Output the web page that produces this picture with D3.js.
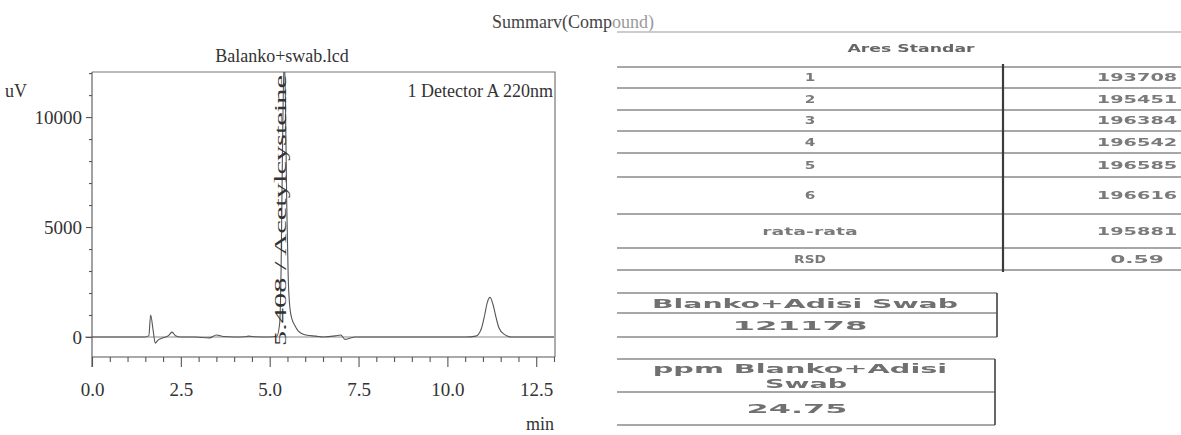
<!DOCTYPE html>
<html>
<head>
<meta charset="utf-8">
<script src="https://cdn.jsdelivr.net/npm/d3@7"></script>
<style>
  body { margin: 0; background: #fff; }
  svg { display: block; }
</style>
</head>
<body>
<svg id="chart" width="1181" height="435"></svg>
<script>
// ---- Chromatogram data (retention time in min, detector signal in uV) ----
const timeMin = [
  0.0, 1.0, 1.5, 1.6, 1.65, 1.72, 1.78, 1.85, 2.0, 2.15, 2.25, 2.35, 2.5,
  2.9, 3.3, 3.5, 3.7, 4.0, 4.3, 4.4, 4.6, 5.0, 5.2, 5.28, 5.32, 5.36, 5.408,
  5.44, 5.48, 5.52, 5.57, 5.63, 5.7, 5.8, 5.9, 6.05, 6.3, 6.5, 6.85, 7.0,
  7.12, 7.25, 7.4, 8.5, 10.5, 10.8, 10.95, 11.05, 11.12, 11.2, 11.28, 11.36,
  11.45, 11.6, 11.8, 12.5, 13.0
];
const signalUV = [
  0, 0, 0, 60, 1000, 300, -280, -150, -40, 60, 220, 60, 0,
  0, -40, 90, 20, 0, 10, 40, 10, 0, 30, 600, 3000, 8500, 12700,
  11000, 6000, 2800, 1300, 800, 550, 280, 160, 80, 40, 0, 50, 90,
  -110, -60, 0, 0, 0, 40, 350, 1000, 1550, 1800, 1500, 950,
  420, 120, 0, 0, 0
];
const peakTimes = [5.408];
const peakNames = ["5.408 / Acetylcysteine"];
const xMajorTicks = [0, 2.5, 5, 7.5, 10, 12.5];
const yMajorTicks = [0, 5000, 10000];
const chartTitle = "Balanko+swab.lcd";
const detectorLabel = "1 Detector A 220nm";

// ---- Summary table data ----
const standardRuns = ["1", "2", "3", "4", "5", "6", "rata-rata", "RSD"];
const standardAreas = ["193708", "195451", "196384", "196542", "196585", "196616", "195881", "0.59"];
const swabHeader = ["Blanko+Adisi Swab"];
const swabArea = ["121178"];
const ppmHeader = ["ppm Blanko+Adisi", "Swab"];
const ppmValue = ["24.75"];

const svg = d3.select("#chart");
const defs = svg.append("defs");
defs.append("filter").attr("id", "soft")
  .append("feGaussianBlur").attr("stdDeviation", 0.5);
defs.append("clipPath").attr("id", "plotClip")
  .append("rect").attr("x", 92).attr("y", 72).attr("width", 463).attr("height", 285);

const serif = "'Liberation Serif', 'Times New Roman', serif";
const ink = "#333";

// ---- Chromatogram ----
const x = d3.scaleLinear().domain([0, 13]).range([92, 554]);
const y = d3.scaleLinear().domain([-910, 12050]).range([357, 72]);

const g = svg.append("g");

// frame (top and right)
g.append("path")
  .attr("d", `M${x(0)},${y(12050)}H555V${y(-910)}`)
  .attr("fill", "none").attr("stroke", "#777").attr("stroke-width", 1.2);

// zero baseline
g.append("line")
  .attr("x1", 85).attr("x2", x(13)).attr("y1", y(0)).attr("y2", y(0))
  .attr("stroke", "#c4c4c4").attr("stroke-width", 2.2);

// x axis: major + minor ticks
const xMinor = d3.range(0, 13.01, 0.5).filter(v => !xMajorTicks.includes(v));
const xAxisMinor = d3.axisBottom(x).tickValues(xMinor).tickSize(5).tickFormat("");
const xAxisMajor = d3.axisBottom(x).tickValues(xMajorTicks).tickSize(10).tickPadding(16)
  .tickFormat(d3.format(".1f"));
g.append("g").attr("transform", `translate(0,${y(-910)})`).call(xAxisMinor)
  .call(a => a.select(".domain").remove());
const gx = g.append("g").attr("transform", `translate(0,${y(-910)})`).call(xAxisMajor);
gx.select(".domain").attr("d", `M${x(0)},0H555`);

// y axis: major + minor ticks
const yMinor = d3.range(1000, 12001, 1000).filter(v => !yMajorTicks.includes(v));
g.append("g").attr("transform", `translate(${x(0)},0)`)
  .call(d3.axisLeft(y).tickValues(yMinor).tickSize(3).tickFormat(""))
  .call(a => a.select(".domain").remove());
const gy = g.append("g").attr("transform", `translate(${x(0)},0)`)
  .call(d3.axisLeft(y).tickValues(yMajorTicks).tickSize(6).tickPadding(4).tickFormat(d3.format("d")));
gy.select(".domain").attr("d", `M0,${y(12050)}V${y(-910) + 10}`);

svg.selectAll(".tick line, .domain").attr("stroke", "#555").attr("stroke-width", 1.1);
svg.selectAll(".tick text").attr("font-family", serif).attr("font-size", 19).attr("fill", ink);

// signal trace
const trace = d3.line().x((d, i) => x(timeMin[i])).y(d => y(d)).curve(d3.curveMonotoneX);
g.append("path").datum(signalUV)
  .attr("clip-path", "url(#plotClip)")
  .attr("d", trace)
  .attr("fill", "none").attr("stroke", "#555").attr("stroke-width", 1.1);

// peak annotation (rotated, reading upward)
peakTimes.forEach((t, i) => {
  const px = x(t) + 2, py = 346;
  g.append("text")
    .attr("transform", `translate(${px},${py}) rotate(-90)`)
    .attr("font-family", serif).attr("font-size", 16).attr("fill", ink)
    .attr("textLength", 271).attr("lengthAdjust", "spacingAndGlyphs")
    .text(peakNames[i]);
});

// titles and units
g.append("text").attr("x", 282).attr("y", 62).attr("text-anchor", "middle")
  .attr("font-family", serif).attr("font-size", 18).attr("fill", ink).text(chartTitle);
g.append("text").attr("x", 553).attr("y", 97).attr("text-anchor", "end")
  .attr("font-family", serif).attr("font-size", 18).attr("fill", ink).text(detectorLabel);
g.append("text").attr("x", 5).attr("y", 97)
  .attr("font-family", serif).attr("font-size", 18).attr("fill", ink).text("uV");
g.append("text").attr("x", 554).attr("y", 430).attr("text-anchor", "end")
  .attr("font-family", serif).attr("font-size", 18).attr("fill", ink).text("min");

// ---- Summary heading ----
const head = svg.append("text").attr("x", 492).attr("y", 28)
  .attr("font-family", serif).attr("font-size", 18).attr("fill", "#444");
head.append("tspan").text("Summarv(Comp");
head.append("tspan").attr("fill", "#999").text("ound)");

// ---- Summary table ----
const sans = "'DejaVu Sans', Verdana, sans-serif";
const t = svg.append("g").attr("filter", "url(#soft)");
const tableLeft = 617, tableRight = 1181, colSplit = 1003;
const rowEdges = [32, 67, 88, 110, 131, 153, 177, 214, 248, 270];
const labelCx = 810, valueCx = 1137;

function wideText(sel, str, cx, cy, size, perChar, color) {
  return sel.append("text").attr("x", cx).attr("y", cy).attr("dy", "0.36em")
    .attr("text-anchor", "middle").attr("font-family", sans).attr("font-size", size)
    .attr("font-weight", "bold")
    .attr("fill", color).attr("textLength", str.length * perChar)
    .attr("lengthAdjust", "spacingAndGlyphs").text(str);
}

t.selectAll("line.row").data(rowEdges).join("line")
  .attr("x1", tableLeft).attr("x2", tableRight).attr("y1", d => d).attr("y2", d => d)
  .attr("stroke", d => d === 32 ? "#bbb" : "#8a8a8a").attr("stroke-width", 1.6);
t.append("line").attr("x1", colSplit).attr("x2", colSplit)
  .attr("y1", rowEdges[1] - 3).attr("y2", rowEdges[rowEdges.length - 1] + 2)
  .attr("stroke", "#3a3a3a").attr("stroke-width", 2.2);

wideText(t, "Ares Standar", 911, (rowEdges[0] + rowEdges[1]) / 2 - 1, 11, 10.6, "#666");
standardRuns.forEach((r, i) => {
  const cy = (rowEdges[i + 1] + rowEdges[i + 2]) / 2;
  wideText(t, r, labelCx, cy, 10, 10.6, "#7a7a7a");
  wideText(t, standardAreas[i], valueCx, cy, 10, 13.4, "#7a7a7a");
});

// ---- Swab boxes ----
const boxLeft = 617, boxCx = 805;
function box(top, mid, bottom, right) {
  [top, mid, bottom].forEach(v => t.append("line")
    .attr("x1", boxLeft).attr("x2", right).attr("y1", v).attr("y2", v)
    .attr("stroke", "#8a8a8a").attr("stroke-width", 1.6));
  t.append("line").attr("x1", right).attr("x2", right).attr("y1", top).attr("y2", bottom)
    .attr("stroke", "#555").attr("stroke-width", 1.8);
}
box(293, 313, 337, 997);
wideText(t, swabHeader[0], boxCx, 303.5, 12, 18, "#707070");
wideText(t, swabArea[0], 800, 325.5, 12, 22.5, "#707070");

box(359, 392, 425, 995);
wideText(t, ppmHeader[0], 800, 369, 11.5, 18.4, "#707070");
wideText(t, ppmHeader[1], 806, 383.5, 11.5, 20.5, "#707070");
wideText(t, ppmValue[0], 797, 409, 12, 20.2, "#707070");
</script>
</body>
</html>
